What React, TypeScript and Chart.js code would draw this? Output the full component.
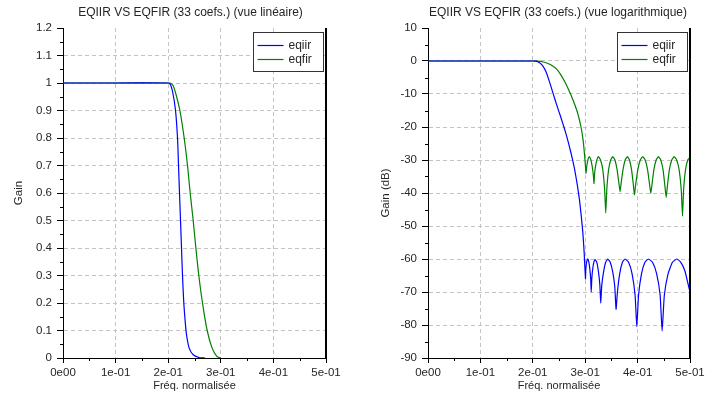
import React, { useEffect, useRef } from 'react';
import { Chart, registerables } from 'chart.js';

Chart.register(...registerables);

// ---- text ----
const seriesNames = ['eqiir', 'eqfir'];
const seriesColors = ['#0000ff', '#008000'];
const linTitle = 'EQIIR VS EQFIR (33 coefs.) (vue linéaire)';
const logTitle = 'EQIIR VS EQFIR (33 coefs.) (vue logarithmique)';
const xTitle = 'Fréq. normalisée';
const linYTitle = 'Gain';
const logYTitle = 'Gain (dB)';
const xTickLabels = ['0e00', '1e-01', '2e-01', '3e-01', '4e-01', '5e-01'];

// ---- data: [normalised frequency, gain] ----
const eqiirLin: [number, number][] = [
  [0, 1], [0.1, 1], [0.2, 1], [0.2032, 0.998], [0.2082, 0.97], [0.2139, 0.9], [0.2177, 0.8],
  [0.2196, 0.7], [0.2215, 0.6], [0.2234, 0.5], [0.2253, 0.4], [0.2272, 0.3], [0.2297, 0.2],
  [0.2323, 0.133], [0.2348, 0.085], [0.2399, 0.036], [0.2475, 0.012], [0.2601, 0.001], [0.27, 0],
];
const eqfirLin: [number, number][] = [
  [0, 1], [0.1, 1], [0.2, 1], [0.2044, 0.999], [0.2095, 0.99], [0.2146, 0.96], [0.2222, 0.9],
  [0.2304, 0.8], [0.2367, 0.7], [0.2418, 0.6], [0.2475, 0.5], [0.2526, 0.4], [0.2582, 0.3],
  [0.2652, 0.2], [0.2741, 0.1], [0.2835, 0.036], [0.2925, 0.006], [0.3, 0],
];

// ---- data: [normalised frequency, gain dB] ----
const eqiirDb: [number, number][] = [
  [0, 0], [0.1, 0], [0.2, 0], [0.205, -0.05], [0.21, -0.3], [0.215, -0.8], [0.22, -1.7],
  [0.225, -3.2], [0.23, -5.4], [0.235, -7.9], [0.24, -10.5], [0.245, -13], [0.25, -15.4],
  [0.255, -17.8], [0.26, -20.3], [0.265, -23], [0.27, -26], [0.275, -29.3], [0.28, -33],
  [0.285, -37.6], [0.289, -42], [0.2925, -47], [0.2955, -52], [0.298, -58], [0.3005, -66],
  [0.3011, -63.5], [0.3022, -61.5], [0.3035, -60.4], [0.3048, -60], [0.3068, -60.8], [0.3088, -63], [0.3105, -66], [0.3115, -70],
  [0.3126, -66], [0.3145, -62.8], [0.3168, -60.8], [0.319, -60.2], [0.3222, -61], [0.3254, -64], [0.328, -68], [0.3296, -73.4],
  [0.3316, -68], [0.335, -64], [0.339, -61], [0.343, -60], [0.3478, -61], [0.3526, -64], [0.3565, -68.5], [0.3589, -75.2],
  [0.3615, -70], [0.3658, -64.5], [0.371, -61], [0.3761, -60], [0.3828, -61], [0.3895, -64.5], [0.3952, -71], [0.3985, -80.5],
  [0.4018, -71], [0.4074, -64.5], [0.414, -61], [0.4207, -60], [0.4285, -61], [0.4364, -64.5], [0.443, -71], [0.4468, -81.8],
  [0.451, -71], [0.4581, -64.5], [0.4665, -61], [0.475, -60], [0.4825, -61], [0.49, -63.5], [0.4955, -67], [0.5, -70],
];
const eqfirDb: [number, number][] = [
  [0, 0], [0.1, 0], [0.2, 0], [0.21, -0.05], [0.22, -0.3], [0.228, -0.7], [0.235, -1.2],
  [0.245, -2.4], [0.2535, -4.2], [0.262, -6.6], [0.272, -10], [0.28, -13.2], [0.286, -16],
  [0.292, -20], [0.296, -24], [0.2985, -28], [0.3003, -31.5], [0.3015, -34],
  [0.3025, -32.5], [0.3041, -30.8], [0.306, -29.5], [0.3079, -29], [0.3106, -29.8], [0.3132, -31.8], [0.3155, -34.5], [0.3168, -37.1],
  [0.318, -34], [0.3201, -31.5], [0.3226, -29.8], [0.3251, -29], [0.3293, -30], [0.3336, -33], [0.3371, -39], [0.3392, -46],
  [0.3412, -39], [0.3446, -33], [0.3486, -30], [0.3526, -29], [0.3568, -30], [0.3609, -33], [0.3643, -37], [0.3665, -39.6],
  [0.3686, -37], [0.3721, -33], [0.3763, -30], [0.3805, -29], [0.3845, -30], [0.3885, -33], [0.3919, -37.5], [0.3939, -40.6],
  [0.3963, -37.5], [0.4003, -33], [0.4051, -30], [0.4099, -29], [0.4145, -30], [0.4191, -33], [0.4229, -37.5], [0.4252, -40.1],
  [0.4274, -37.5], [0.431, -33], [0.4354, -30], [0.4398, -29], [0.4442, -30], [0.4486, -33], [0.4522, -38], [0.4545, -41.3],
  [0.4568, -38], [0.4606, -33], [0.4652, -30], [0.4698, -29], [0.4746, -30], [0.4793, -33], [0.4833, -39], [0.4857, -47],
  [0.4878, -39], [0.4914, -33], [0.4957, -30], [0.5, -29.2],
];

const FONT_FAMILY = '"Liberation Sans", Arial, Helvetica, sans-serif';
const TEXT_COLOR = '#262626';
const GRID_COLOR = '#c4c4c4';

const decorPlugin = {
  id: 'decor',
  afterDraw(chart: any, _args: any, opts: any) {
    const { ctx, chartArea: ca, scales } = chart;
    const xs = scales.x;
    const ys = scales.y;
    ctx.save();
    // minor ticks
    ctx.strokeStyle = '#000';
    ctx.lineWidth = 1;
    ctx.beginPath();
    for (let v = xs.min + opts.xMinor; v < xs.max; v += 2 * opts.xMinor) {
      const px = Math.round(xs.getPixelForValue(v)) + 0.5;
      ctx.moveTo(px, ca.bottom);
      ctx.lineTo(px, ca.bottom + 3);
    }
    for (let v = ys.min + opts.yMinor; v < ys.max; v += 2 * opts.yMinor) {
      const py = Math.round(ys.getPixelForValue(v)) + 0.5;
      ctx.moveTo(ca.left, py);
      ctx.lineTo(ca.left - 3, py);
    }
    ctx.stroke();
    // right frame line
    ctx.lineWidth = 2;
    ctx.beginPath();
    ctx.moveTo(ca.right, ca.top);
    ctx.lineTo(ca.right, ca.bottom + 1);
    ctx.stroke();
    // title
    ctx.fillStyle = TEXT_COLOR;
    ctx.font = `12px ${FONT_FAMILY}`;
    ctx.textAlign = 'center';
    ctx.textBaseline = 'middle';
    ctx.fillText(opts.title, (ca.left + ca.right) / 2 + opts.titleShift, 13);
    // legend box
    const bw = 70;
    const bh = 39;
    const bx = Math.round(ca.right - 73) + 0.5;
    const by = Math.round(ca.top + 4) + 0.5;
    ctx.fillStyle = '#fff';
    ctx.fillRect(bx, by, bw, bh);
    ctx.strokeStyle = '#333';
    ctx.lineWidth = 1;
    ctx.strokeRect(bx, by, bw, bh);
    ctx.textAlign = 'left';
    seriesNames.forEach((name, i) => {
      const y = Math.round(by + 12 + i * 14.5) + 0.5;
      ctx.strokeStyle = seriesColors[i];
      ctx.lineWidth = 1.2;
      ctx.beginPath();
      ctx.moveTo(bx + 4, y);
      ctx.lineTo(bx + 30, y);
      ctx.stroke();
      ctx.fillStyle = TEXT_COLOR;
      ctx.fillText(name, bx + 35, y);
    });
    ctx.restore();
  },
};

function makeConfig(p: {
  iir: [number, number][];
  fir: [number, number][];
  yMin: number;
  yMax: number;
  yStep: number;
  yMinor: number;
  yTitle: string;
  title: string;
  titleShift: number;
  yWidth: number;
  padRight: number;
  yTitlePad: number;
  tension: number;
  fmtY: (v: number) => string;
}): any {
  const font = { family: FONT_FAMILY, size: 11.5 };
  const xFont = { family: FONT_FAMILY, size: 11 };
  return {
    type: 'line',
    data: {
      datasets: [p.iir, p.fir].map((arr, i) => ({
        label: seriesNames[i],
        data: arr.map(([x, y]) => ({ x, y })),
        borderColor: seriesColors[i],
        backgroundColor: seriesColors[i],
        borderWidth: 1.2,
        pointRadius: 0,
        tension: p.tension,
        fill: false,
      })),
    },
    options: {
      animation: false,
      responsive: false,
      devicePixelRatio: 1,
      layout: { padding: { left: 0, right: p.padRight, top: 28, bottom: 0 } },
      plugins: {
        legend: { display: false },
        title: { display: false },
        tooltip: { enabled: false },
        decor: { title: p.title, titleShift: p.titleShift, xMinor: 0.05, yMinor: p.yMinor },
      },
      scales: {
        x: {
          type: 'linear',
          min: 0,
          max: 0.5,
          afterFit: (s: any) => { s.height = 43; },
          ticks: {
            stepSize: 0.1,
            padding: 3,
            maxRotation: 0,
            autoSkip: false,
            color: TEXT_COLOR,
            font,
            callback: (v: any) => xTickLabels[Math.round(Number(v) * 10)] ?? '',
          },
          grid: { color: GRID_COLOR, lineWidth: 1, tickColor: '#000', tickLength: 5, drawTicks: true },
          border: { color: '#000', width: 1, dash: [4, 3] },
          title: { display: true, text: xTitle, color: TEXT_COLOR, font: xFont, padding: { top: 0, bottom: 8 } },
        },
        y: {
          type: 'linear',
          min: p.yMin,
          max: p.yMax,
          afterFit: (s: any) => { s.width = p.yWidth; },
          ticks: {
            stepSize: p.yStep,
            padding: 5,
            color: TEXT_COLOR,
            font,
            callback: (v: any) => p.fmtY(Number(v)),
          },
          grid: {
            color: (c: any) => (c.tick && Math.abs(c.tick.value - p.yMax) < 1e-6 ? 'rgba(0,0,0,0)' : GRID_COLOR),
            lineWidth: 1,
            tickColor: '#000',
            tickLength: 6,
            drawTicks: true,
          },
          border: { color: '#000', width: 1, dash: [4, 3] },
          title: { display: true, text: p.yTitle, color: TEXT_COLOR, font, padding: { top: p.yTitlePad, bottom: 0 } },
        },
      },
    },
    plugins: [decorPlugin],
  };
}

export default function App() {
  const linRef = useRef<HTMLCanvasElement>(null);
  const logRef = useRef<HTMLCanvasElement>(null);

  useEffect(() => {
    const c1 = new Chart(linRef.current as HTMLCanvasElement, makeConfig({
      iir: eqiirLin,
      fir: eqfirLin,
      yMin: 0,
      yMax: 1.2,
      yStep: 0.1,
      yMinor: 0.05,
      yTitle: linYTitle,
      title: linTitle,
      titleShift: -4,
      yWidth: 63,
      padRight: 32,
      yTitlePad: 12,
      tension: 0.3,
      fmtY: (v) => String(Math.round(v * 10) / 10),
    }));
    const c2 = new Chart(logRef.current as HTMLCanvasElement, makeConfig({
      iir: eqiirDb,
      fir: eqfirDb,
      yMin: -90,
      yMax: 10,
      yStep: 10,
      yMinor: 5,
      yTitle: logYTitle,
      title: logTitle,
      titleShift: -1,
      yWidth: 70,
      padRight: 26,
      yTitlePad: 21,
      tension: 0.15,
      fmtY: (v) => String(Math.round(v)),
    }));
    return () => {
      c1.destroy();
      c2.destroy();
    };
  }, []);

  return (
    <div style={{ position: 'absolute', left: 0, top: 0, width: 716, height: 401, background: '#fff', overflow: 'hidden' }}>
      <canvas ref={linRef} width={358} height={401} style={{ position: 'absolute', left: 0, top: 0, width: 358, height: 401 }} />
      <canvas ref={logRef} width={358} height={401} style={{ position: 'absolute', left: 358, top: 0, width: 358, height: 401 }} />
    </div>
  );
}
